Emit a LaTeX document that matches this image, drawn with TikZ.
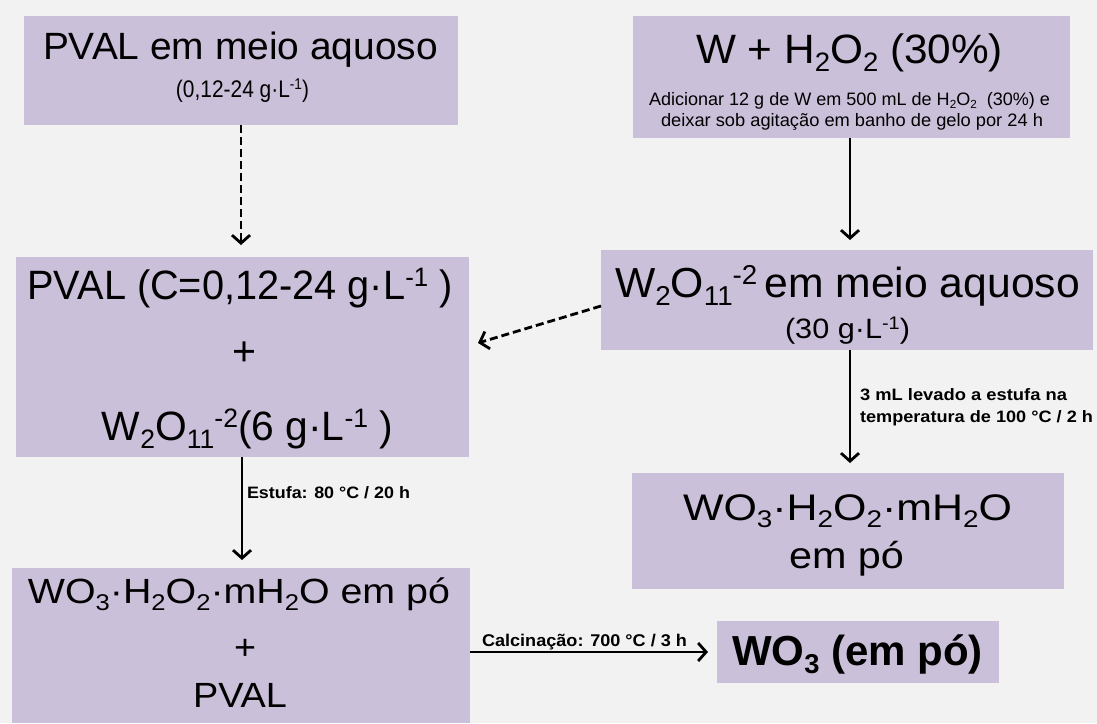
\documentclass[tikz,border=0pt]{standalone}
\usepackage{fontspec}
\setmainfont{Liberation Sans}
\usetikzlibrary{arrows.meta,calc}
\definecolor{bg}{HTML}{F2F2F2}
\definecolor{boxc}{HTML}{CBC0DA}
\newcommand\Sb[1]{\raisebox{-0.2em}{\scalebox{0.65}{#1}}}
\newcommand\Sp[1]{\raisebox{0.3em}{\scalebox{0.65}{#1}}}
\newcommand\fitt[3]{\resizebox{#1pt}{\height}{\fontsize{#2}{#2}\selectfont #3}}
\newcommand\fitb[3]{\resizebox{#1pt}{\height}{\fontsize{#2}{#2}\selectfont\bfseries #3}}
\begin{document}
\begin{tikzpicture}[x=1pt,y=-1pt,
  box/.style={rectangle, fill=boxc, draw=none, inner sep=0pt, outer sep=0pt},
  txt/.style={anchor=base, inner sep=0pt, outer sep=0pt},
  ltxt/.style={anchor=base west, inner sep=0pt, outer sep=0pt},
  arr/.style={line width=2.8pt, -{Straight Barb[length=8pt,width=18pt]}},
  darr/.style={arr, dash pattern=on 8pt off 4pt}]
\fill[bg] (0,0) rectangle (1097,723);
\useasboundingbox (0,0) rectangle (1097,723);
% boxes
\node[box, minimum width=434pt, minimum height=109pt] (A) at (241,70.5) {};
\node[box, minimum width=437pt, minimum height=122pt] (B) at (851.5,77) {};
\node[box, minimum width=453pt, minimum height=200pt] (C) at (242.5,357) {};
\node[box, minimum width=492pt, minimum height=100pt] (D) at (847,300) {};
\node[box, minimum width=432pt, minimum height=116pt] (E) at (848,531) {};
\node[box, minimum width=458pt, minimum height=155pt] (F) at (241,645.5) {};
\node[box, minimum width=282pt, minimum height=62pt] (G) at (858,652) {};
% texts
\node[txt] (tA1) at (240.5,59) {\fitt{395}{38}{PVAL em meio aquoso}};
\node[txt] (tA2) at (242.5,97) {\fitt{133}{24}{(0,12-24 g·L\Sp{-1})}};
\node[txt] (tB1) at (849.5,63) {\fitt{307}{41}{W + H\Sb{2}O\Sb{2} (30\%)}};
\node[txt] (tB2) at (849.5,105) {\fitt{401}{18}{Adicionar 12 g de W em 500 mL de H\Sb{2}O\Sb{2}\ \ (30\%) e}};
\node[txt] (tB3) at (852,126) {\fitt{382}{18}{deixar sob agitação em banho de gelo por 24 h}};
\node[txt] (tC1) at (240,299) {\fitt{425}{41}{PVAL (C=0,12-24 g·L\Sp{-1} )}};
\node[txt] (tC2) at (244,365) {\fitt{24}{41}{+}};
\node[txt] (tC3) at (247.5,440) {\fitt{291}{41}{W\Sb{2}O\Sb{11}\Sp{-2}(6 g·L\Sp{-1} )}};
\node[txt] (tD1) at (847.5,297) {\fitt{465}{42}{W\Sb{2}O\Sb{11}\Sp{-2}\,em meio aquoso}};
\node[txt] (tD2) at (847.5,338) {\fitt{125}{28}{(30 g·L\Sp{-1})}};
\node[txt] (tE1) at (847.5,520) {\fitt{329}{37}{WO\Sb{3}·H\Sb{2}O\Sb{2}·mH\Sb{2}O}};
\node[txt] (tE2) at (846.5,568) {\fitt{115}{37}{em pó}};
\node[txt] (tF1) at (239,603) {\fitt{422}{35}{WO\Sb{3}·H\Sb{2}O\Sb{2}·mH\Sb{2}O em pó}};
\node[txt] (tF2) at (245,659) {\fitt{22}{35}{+}};
\node[txt] (tF3) at (240,707) {\fitt{94}{35}{PVAL}};
\node[txt] (tG) at (857.5,665) {\fitb{251}{42}{WO\Sb{3} (em pó)}};
% connectors
\draw[darr] (A.south) -- ([yshift=12pt]A.south |- C.north);
\draw[arr] (B.south -| 850,0) -- ([yshift=10pt]850,0 |- D.north);
\draw[darr] ([yshift=-6pt]D.west) -- ([xshift=9pt,yshift=14pt]C.east);
\draw[arr] (D.south -| 850,0) -- ([yshift=10pt]850,0 |- E.north);
\draw[arr] (C.south -| 242,0) -- ([yshift=8pt]242,0 |- F.north);
\draw[arr] (F.east |- G.west) -- ([xshift=-9pt]G.west);
% labels
\node[ltxt] (lC) at (247,498) {\fitb{163}{16.5}{Estufa: 80 °C / 20 h}};
\node[ltxt] (lD1) at (860,400) {\fitb{207}{16.5}{3 mL levado a estufa na}};
\node[ltxt] (lD2) at (860,422) {\fitb{233}{16.5}{temperatura de 100 °C / 2 h}};
\node[ltxt] (lF) at (482,646) {\fitb{205}{17}{Calcinação: 700 °C / 3 h}};
\end{tikzpicture}
\end{document}
